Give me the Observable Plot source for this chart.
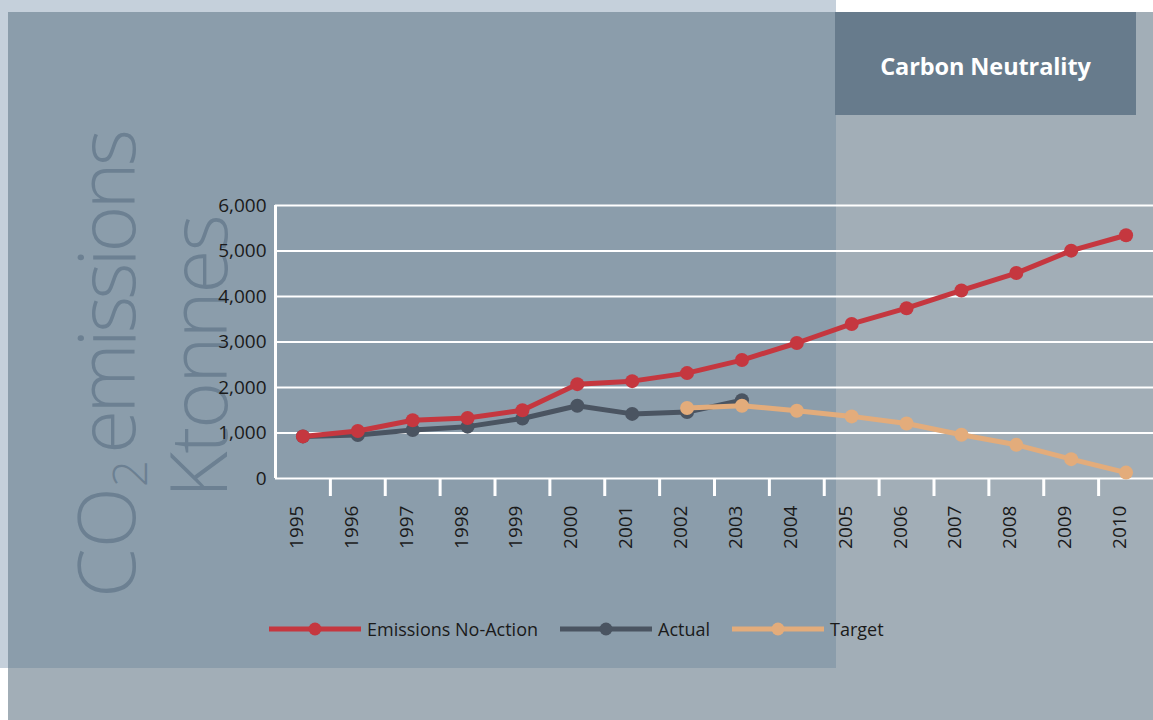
<!DOCTYPE html>
<html>
<head>
<meta charset="utf-8">
<script src="https://cdn.jsdelivr.net/npm/d3@7"></script>
<script src="https://cdn.jsdelivr.net/npm/@observablehq/plot@0.6"></script>
<style>
  body { margin: 0; background: #fff; }
  #page { position: relative; width: 1153px; height: 720px; overflow: hidden; background: #fff; font-family: "Open Sans", sans-serif; }
  .bg { position: absolute; }
  #titlebox { position: absolute; left: 835px; top: 12px; width: 301px; height: 103px; background: #677b8c; color: #fff;
    font-weight: 700; font-size: 23.5px; display: flex; align-items: center; justify-content: center; letter-spacing: -0.1px; padding-top: 4px; box-sizing: border-box; }
  #big { position: absolute; left: 0; top: 0; }
  #chart { position: absolute; left: 0; top: 0; }
  #chart svg g[aria-label*="x-axis"] line, #chart svg g[aria-label*="x-axis"] path { stroke-width: 3px; }
  #legend { position: absolute; left: 269px; top: 617px; display: flex; align-items: center; gap: 22px; font-size: 18px; color: #1a1a1a; }
  .item { display: flex; align-items: center; }
  .item span { margin-left: 6px; }
</style>
</head>
<body>
<div id="page">
  <div class="bg" style="left:0;top:0;width:836px;height:668px;background:#c5d0db"></div>
  <div class="bg" style="left:8px;top:12px;width:1145px;height:708px;background:#a2aeb7"></div>
  <div class="bg" style="left:8px;top:12px;width:828px;height:656px;background:#8b9dab"></div>
  <div id="titlebox">Carbon Neutrality</div>
  <svg id="big" width="1153" height="720">
    <text transform="translate(135,598) rotate(-90)" font-family="Open Sans" font-weight="300" font-size="80" fill="#6c8092">CO<tspan font-size="48" baseline-shift="-12">2</tspan><tspan dx="6" letter-spacing="-4">emissions</tspan></text>
    <text transform="translate(227,498) rotate(-90)" font-family="Open Sans" font-weight="300" font-size="80" fill="#6c8092" letter-spacing="-2">Ktonnes</text>
  </svg>
  <div id="chart"></div>
  <div id="legend"></div>
</div>
<script>
const years = [1995, 1996, 1997, 1998, 1999, 2000, 2001, 2002, 2003, 2004, 2005, 2006, 2007, 2008, 2009, 2010];
const noAction = [925, 1043, 1280, 1330, 1500, 2074, 2140, 2316, 2603, 2978, 3397, 3743, 4132, 4515, 5008, 5346];
const actualYears = [1995, 1996, 1997, 1998, 1999, 2000, 2001, 2002, 2003];
const actual = [925, 955, 1065, 1140, 1320, 1600, 1420, 1460, 1720];
const targetYears = [2002, 2003, 2004, 2005, 2006, 2007, 2008, 2009, 2010];
const target = [1550, 1600, 1490, 1365, 1210, 960, 740, 425, 130];
const yTicks = [0, 1000, 2000, 3000, 4000, 5000, 6000];
const yTickLabels = ["0", "1,000", "2,000", "3,000", "4,000", "5,000", "6,000"];
const seriesNames = ["Emissions No-Action", "Actual", "Target"];
const seriesColors = ["#c5373f", "#4a5461", "#e3ac7b"];

const rows = (xs, vs) => xs.map((x, i) => ({year: x, value: vs[i]}));
const noActionRows = rows(years, noAction);
const actualRows = rows(actualYears, actual);
const targetRows = rows(targetYears, target);
const boundaries = years.slice(0, -1).map(y => y + 0.5);
const txt = "#1a1a1a";

const chart = Plot.plot({
  width: 1153,
  height: 720,
  marginLeft: 275,
  marginRight: 0,
  marginTop: 205,
  marginBottom: 242,
  style: {background: "transparent", color: "white", fontFamily: "Open Sans", fontSize: "19px"},
  x: {domain: [years[0] - 0.5, years[years.length - 1] + 0.5], ticks: boundaries, tickSize: 18, tickFormat: () => "", label: null},
  y: {domain: [0, 6000], axis: null},
  marks: [
    Plot.ruleY(yTicks, {y: d => d, stroke: "white", strokeWidth: 2.2}),
    Plot.ruleX([years[0] - 0.5], {stroke: "white", strokeWidth: 3}),
    Plot.text(yTicks, {y: yTicks, text: yTickLabels, frameAnchor: "left", textAnchor: "end", dx: -9, fill: txt, fontSize: 19}),
    Plot.text(years, {x: years, text: years.map(String), frameAnchor: "bottom", rotate: -90, textAnchor: "end", dy: 27, fill: txt, fontSize: 19}),
    Plot.line(actualRows, {x: "year", y: "value", stroke: seriesColors[1], strokeWidth: 5}),
    Plot.dot(actualRows, {x: "year", y: "value", r: 7, fill: seriesColors[1]}),
    Plot.line(targetRows, {x: "year", y: "value", stroke: seriesColors[2], strokeWidth: 5}),
    Plot.dot(targetRows, {x: "year", y: "value", r: 7, fill: seriesColors[2]}),
    Plot.line(noActionRows, {x: "year", y: "value", stroke: seriesColors[0], strokeWidth: 5}),
    Plot.dot(noActionRows, {x: "year", y: "value", r: 7, fill: seriesColors[0]})
  ]
});
document.getElementById("chart").appendChild(chart);

const legend = document.getElementById("legend");
seriesNames.forEach((name, i) => {
  const item = document.createElement("div");
  item.className = "item";
  item.innerHTML = `<svg width="92" height="16"><line x1="0" x2="92" y1="8" y2="8" stroke="${seriesColors[i]}" stroke-width="5"/><circle cx="46" cy="8" r="6.5" fill="${seriesColors[i]}"/></svg><span>${name}</span>`;
  legend.appendChild(item);
});
</script>
</body>
</html>
